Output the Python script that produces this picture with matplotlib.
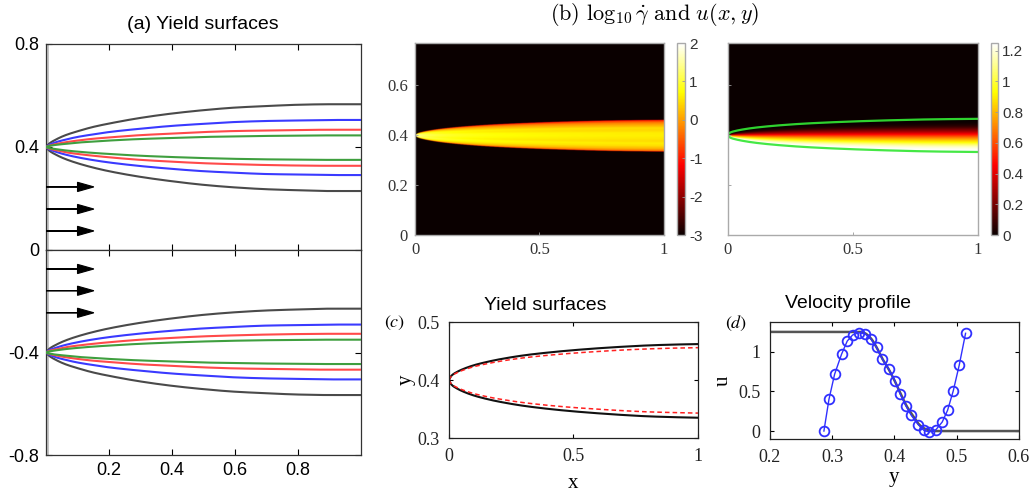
import numpy as np
import matplotlib
matplotlib.use("Agg")
import matplotlib.pyplot as plt

plt.rcParams['font.family'] = ['Liberation Sans', 'DejaVu Sans']
plt.rcParams['axes.unicode_minus'] = False

# ---------------- data ----------------
xs = [0, 0.01, 0.03, 0.06, 0.1, 0.15, 0.2, 0.3, 0.4, 0.5, 0.6, 0.7, 0.8, 0.9, 1.0]

# panel (a): yield surfaces around y=0.4 (lower half is the mirror image)
a_black_up = [0.400, 0.413, 0.428, 0.445, 0.461, 0.478, 0.491, 0.513, 0.530, 0.543, 0.553, 0.559, 0.564, 0.566, 0.566]
a_black_lo = [0.400, 0.386, 0.371, 0.354, 0.337, 0.320, 0.306, 0.284, 0.267, 0.253, 0.243, 0.236, 0.232, 0.229, 0.229]
a_blue_up = [0.400, 0.408, 0.418, 0.428, 0.439, 0.449, 0.458, 0.471, 0.482, 0.490, 0.497, 0.501, 0.503, 0.505, 0.505]
a_blue_lo = [0.400, 0.391, 0.382, 0.371, 0.360, 0.349, 0.340, 0.326, 0.315, 0.306, 0.300, 0.295, 0.293, 0.291, 0.291]
a_red_up = [0.400, 0.405, 0.411, 0.418, 0.425, 0.432, 0.437, 0.446, 0.452, 0.458, 0.462, 0.464, 0.466, 0.467, 0.467]
a_red_lo = [0.400, 0.394, 0.388, 0.380, 0.373, 0.366, 0.360, 0.350, 0.343, 0.337, 0.333, 0.330, 0.328, 0.327, 0.327]
a_green_up = [0.400, 0.404, 0.408, 0.412, 0.417, 0.421, 0.425, 0.431, 0.435, 0.439, 0.441, 0.443, 0.444, 0.445, 0.445]
a_green_lo = [0.400, 0.396, 0.392, 0.387, 0.382, 0.377, 0.373, 0.366, 0.361, 0.357, 0.354, 0.352, 0.351, 0.350, 0.350]
arrow_y = [0.245, 0.159, 0.074]
arrow_len = 0.152

# panel (c): yield surfaces (black: computed, red dashed: reference)
c_black_up = [0.400, 0.4075, 0.4135, 0.4195, 0.4255, 0.431, 0.4355, 0.4425, 0.4475, 0.4515, 0.4548, 0.4575, 0.4597, 0.4611, 0.462]
c_black_lo = [0.400, 0.3921, 0.3859, 0.3796, 0.3733, 0.3675, 0.3628, 0.3555, 0.3502, 0.346, 0.3426, 0.3397, 0.3374, 0.336, 0.335]
c_red_up = [0.400, 0.4068, 0.4122, 0.4176, 0.423, 0.4279, 0.432, 0.4383, 0.4428, 0.4464, 0.4493, 0.4518, 0.4537, 0.455, 0.4558]
c_red_lo = [0.400, 0.3931, 0.3876, 0.3821, 0.3766, 0.3715, 0.3674, 0.361, 0.3563, 0.3526, 0.3497, 0.3471, 0.3451, 0.3439, 0.343]

# panel (d): velocity profile (true profile line and blue sampled points)
prof_y = [0.20, 0.345, 0.352, 0.362, 0.371, 0.380, 0.391, 0.400, 0.410, 0.420, 0.430, 0.440, 0.450, 0.458, 0.465, 0.60]
prof_u = [1.25, 1.25, 1.235, 1.17, 1.06, 0.92, 0.776, 0.64, 0.47, 0.31, 0.19, 0.08, 0.025, 0.005, 0.0, 0.0]
band_top, band_bot = 0.465, 0.345
d_y = [0.2867, 0.2948, 0.3039, 0.3151, 0.3242, 0.3328, 0.3424, 0.3531, 0.3622, 0.3713, 0.3805, 0.3912, 0.4008,
       0.4094, 0.4185, 0.4270, 0.4383, 0.4474, 0.4560, 0.4667, 0.4768, 0.4854, 0.4945, 0.5041, 0.5143]
d_u = [0.0, 0.40, 0.717, 0.970, 1.135, 1.211, 1.240, 1.224, 1.160, 1.055, 0.907, 0.776, 0.633,
       0.464, 0.316, 0.198, 0.080, 0.008, -0.013, 0.017, 0.114, 0.262, 0.506, 0.831, 1.232]

rate_scale = 0.25   # strain-rate level matching the colour of the band
cb1_ticks = [-3, -2, -1, 0, 1, 2]
cb2_ticks = [0, 0.2, 0.4, 0.6, 0.8, 1.0, 1.2]


# ---------------- helpers ----------------
def pchip(x, y, xe):
    x = np.asarray(x, float); y = np.asarray(y, float); xe = np.asarray(xe, float)
    h = np.diff(x); dl = np.diff(y) / h
    n = len(x); d = np.zeros(n)
    for k in range(1, n - 1):
        if dl[k - 1] * dl[k] > 0:
            w1 = 2 * h[k] + h[k - 1]; w2 = h[k] + 2 * h[k - 1]
            d[k] = (w1 + w2) / (w1 / dl[k - 1] + w2 / dl[k])
    def endp(h0, h1, d0, d1):
        v = ((2 * h0 + h1) * d0 - h0 * d1) / (h0 + h1)
        if np.sign(v) != np.sign(d0):
            v = 0.0
        elif np.sign(d0) != np.sign(d1) and abs(v) > abs(3 * d0):
            v = 3 * d0
        return v
    d[0] = endp(h[0], h[1], dl[0], dl[1])
    d[-1] = endp(h[-1], h[-2], dl[-1], dl[-2])
    idx = np.clip(np.searchsorted(x, xe) - 1, 0, n - 2)
    t = (xe - x[idx]) / h[idx]
    h00 = 2 * t**3 - 3 * t**2 + 1; h10 = t**3 - 2 * t**2 + t
    h01 = -2 * t**3 + 3 * t**2; h11 = t**3 - t**2
    return h00 * y[idx] + h10 * h[idx] * d[idx] + h01 * y[idx + 1] + h11 * h[idx] * d[idx + 1]


xf = np.linspace(0, 1, 400)

fig = plt.figure(figsize=(10.36, 5.01), dpi=100)

# ---------------- panel (a) ----------------
axT = fig.add_axes([0.0444, 0.501, 0.3041, 0.4112])
axB = fig.add_axes([0.0444, 0.0918, 0.3041, 0.4092])
curves = [(a_black_up, '#4a4a4a'), (a_black_lo, '#4a4a4a'),
          (a_blue_up, '#3a3aff'), (a_blue_lo, '#3a3aff'),
          (a_red_up, '#ff4a4a'), (a_red_lo, '#ff4a4a'),
          (a_green_up, '#3f9f3f'), (a_green_lo, '#3f9f3f')]
for ax, sgn in ((axT, 1), (axB, -1)):
    ax.axvspan(0, 0.009, color='#c4c4c4', lw=0, zorder=1)
    for ys, col in curves:
        ax.plot(xf, sgn * pchip(xs, ys, xf), color=col, lw=1.5, zorder=3)
    for ay in arrow_y:
        ax.arrow(0, sgn * ay, arrow_len, 0, head_width=0.036, head_length=0.052,
                 length_includes_head=True, fc='k', ec='k', lw=0.8, zorder=4)
    ax.set_xlim(0, 1)
    ax.set_xticks([0.2, 0.4, 0.6, 0.8])
    ax.tick_params(direction='in', top=True, right=True, length=4, width=0.8,
                   labelsize=13, pad=5)
    for s in ax.spines.values():
        s.set_color('#333333'); s.set_linewidth(0.9)
axT.set_ylim(0, 0.8)
axT.set_yticks([0.4, 0.8]); axT.set_yticklabels(['0.4', '0.8'])
axT.tick_params(labelbottom=False)
axB.set_ylim(-0.8, 0)
axB.set_yticks([-0.8, -0.4, 0]); axB.set_yticklabels(['-0.8', '-0.4', '0'])
axB.set_xticklabels(['0.2', '0.4', '0.6', '0.8'])
fig.text(0.196, 0.952, '(a) Yield surfaces', ha='center', va='center', fontsize=14)

# ---------------- panel (b) ----------------
gx = np.linspace(0, 1, 500)
gy = np.linspace(0, 0.77, 700)
YU = pchip(xs, c_black_up, gx)
YL = pchip(xs, c_black_lo, gx)
W = np.maximum(YU - YL, 1e-6)
T = np.clip((YU[None, :] - gy[:, None]) / W[None, :], 0, 1)
U = pchip(prof_y, prof_u, band_top - (band_top - band_bot) * T)
G = np.abs(np.gradient(U, gy, axis=0)) * rate_scale
L = np.log10(np.maximum(G, 1e-3))

serif = 'Liberation Serif'
axL = fig.add_axes([0.4006, 0.5309, 0.2403, 0.3832])
imL = axL.imshow(L, origin='lower', extent=[0, 1, 0, 0.77], aspect='auto',
                 cmap='hot', vmin=-3, vmax=2, interpolation='bilinear')
axL.set_yticks([0, 0.2, 0.4, 0.6]); axL.set_yticklabels(['0', '0.2', '0.4', '0.6'])
axR = fig.add_axes([0.7027, 0.5309, 0.2413, 0.3832])
imR = axR.imshow(U, origin='lower', extent=[0, 1, 0, 0.77], aspect='auto',
                 cmap='hot', vmin=0, vmax=1.25, interpolation='bilinear')
axR.plot(xf, pchip(xs, c_black_up, xf) + 0.004, color='#2fd22f', lw=1.6)
axR.plot(xf, pchip(xs, c_black_lo, xf) - 0.002, color='#45e845', lw=1.6)
axR.set_yticks([0, 0.2, 0.4, 0.6]); axR.set_yticklabels([])
for ax in (axL, axR):
    ax.set_xlim(0, 1); ax.set_ylim(0, 0.77)
    ax.set_xticks([0, 0.5, 1]); ax.set_xticklabels(['0', '0.5', '1'])
    ax.tick_params(direction='in', length=2, width=0.6, color='#999999',
                   labelsize=12, labelcolor='#333333', labelfontfamily=serif, pad=5)
    for s in ax.spines.values():
        s.set_color('#aaaaaa'); s.set_linewidth(1.0)
axR.tick_params(labelleft=False)

caxL = fig.add_axes([0.6535, 0.5309, 0.0077, 0.3832])
cb1 = fig.colorbar(imL, cax=caxL, ticks=cb1_ticks)
caxR = fig.add_axes([0.9566, 0.5309, 0.0068, 0.3832])
cb2 = fig.colorbar(imR, cax=caxR, ticks=cb2_ticks)
cb2.ax.set_yticklabels(['0', '0.2', '0.4', '0.6', '0.8', '1', '1.2'])
for cb in (cb1, cb2):
    cb.outline.set_edgecolor('#aaaaaa'); cb.outline.set_linewidth(1.0)
    cb.ax.tick_params(direction='in', length=2, width=0.6, color='#999999',
                      labelsize=11, labelcolor='#333333', pad=3)

fig.text(0.632, 0.972, r'$\mathrm{(b)}\ \log_{10}\dot{\gamma}\ \mathrm{and}\ u(x,y)$',
         ha='center', va='center', fontsize=16, math_fontfamily='cm')

# ---------------- panel (c) ----------------
axC = fig.add_axes([0.4334, 0.1257, 0.2403, 0.2315])
axC.plot(xf, pchip(xs, c_black_up, xf), color='#111111', lw=1.5)
axC.plot(xf, pchip(xs, c_black_lo, xf), color='#111111', lw=1.5)
axC.plot(xf, pchip(xs, c_red_up, xf), color='#ff2020', lw=1.1, dashes=(3, 2))
axC.plot(xf, pchip(xs, c_red_lo, xf), color='#ff2020', lw=1.1, dashes=(3, 2))
axC.set_xlim(0, 1); axC.set_ylim(0.3, 0.5)
axC.set_xticks([0, 0.5, 1]); axC.set_xticklabels(['0', '0.5', '1'])
axC.set_yticks([0.3, 0.4, 0.5]); axC.set_yticklabels(['0.3', '0.4', '0.5'])
axC.set_xlabel('x', fontsize=15, fontfamily=serif, labelpad=7)
axC.set_ylabel('y', fontsize=15, fontfamily=serif, labelpad=1)
fig.text(0.526, 0.391, 'Yield surfaces', ha='center', va='center', fontsize=14)
fig.text(0.381, 0.355, r'$(c)$', ha='center', va='center', fontsize=13, math_fontfamily='stix')

# ---------------- panel (d) ----------------
axD = fig.add_axes([0.7432, 0.1238, 0.2403, 0.2335])
yf = np.linspace(0.2, 0.6, 600)
axD.plot(yf, pchip(prof_y, prof_u, yf), color='#555555', lw=1.8, zorder=2)
axD.plot(d_y, d_u, color='#3030ff', lw=1.0, marker='o', ms=7, mfc='none',
         mec='#3030ff', mew=1.3, zorder=3)
axD.set_xlim(0.2, 0.6); axD.set_ylim(-0.1, 1.375)
axD.set_xticks([0.2, 0.3, 0.4, 0.5, 0.6]); axD.set_xticklabels(['0.2', '0.3', '0.4', '0.5', '0.6'])
axD.set_yticks([0, 0.5, 1]); axD.set_yticklabels(['0', '0.5', '1'])
axD.set_xlabel('y', fontsize=15, fontfamily=serif, labelpad=2)
axD.set_ylabel('u', fontsize=15, fontfamily=serif, labelpad=4)
fig.text(0.819, 0.395, 'Velocity profile', ha='center', va='center', fontsize=14)
fig.text(0.711, 0.355, r'$(d)$', ha='center', va='center', fontsize=13, math_fontfamily='stix')

for ax in (axC, axD):
    ax.tick_params(direction='in', top=True, right=True, length=3, width=0.8,
                   labelsize=13, labelcolor='#222222', labelfontfamily=serif, pad=7)
    for s in ax.spines.values():
        s.set_color('#222222'); s.set_linewidth(0.9)

fig.savefig('out.png', dpi=100)
